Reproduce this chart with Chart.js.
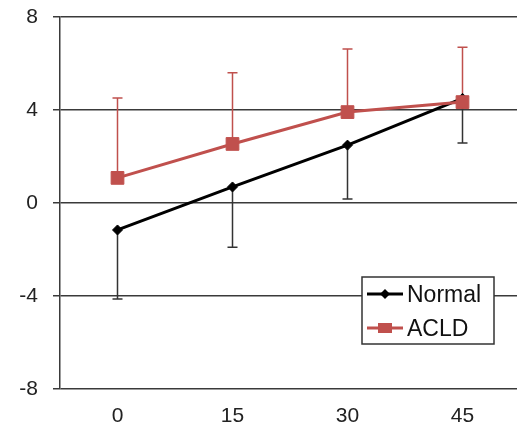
<!DOCTYPE html>
<html lang="en">
<head>
    <meta charset="UTF-8">
    <title>Normal vs ACLD</title>
    <script src="https://cdn.jsdelivr.net/npm/chart.js"></script>
    <style>
        html, body { margin: 0; padding: 0; overflow: hidden; background: #fff; }
    </style>
</head>
<body>
    <canvas id="myChart" width="530" height="424"></canvas>

    <script>
        // data
        var labels = ['0', '15', '30', '45'];
        var normalMean = [-1.16, 0.69, 2.49, 4.5];
        var normalSD = [2.97, 2.59, 2.32, 1.92];   // drawn downwards only
        var acldMean = [1.08, 2.54, 3.91, 4.34];
        var acldSD = [3.44, 3.06, 2.71, 2.36];     // drawn upwards only
        var yTicks = [-8, -4, 0, 4, 8];

        var red = '#c0504d';
        var font = "'Liberation Sans', Arial, sans-serif";

        // error bars, one-sided, drawn under the lines
        var errorBars = {
            id: 'errorBars',
            beforeDatasetsDraw: function (chart) {
                var ctx = chart.ctx;
                var x = chart.scales.x, y = chart.scales.y;
                var sets = [
                    { mean: normalMean, sd: normalSD, dir: -1, color: '#333' },
                    { mean: acldMean, sd: acldSD, dir: 1, color: red }
                ];
                ctx.save();
                sets.forEach(function (s) {
                    ctx.strokeStyle = s.color;
                    ctx.lineWidth = 1.5;
                    for (var i = 0; i < s.mean.length; i++) {
                        var px = x.getPixelForValue(i);
                        var y0 = y.getPixelForValue(s.mean[i]);
                        var y1 = y.getPixelForValue(s.mean[i] + s.dir * s.sd[i]);
                        ctx.beginPath();
                        ctx.moveTo(px, y0);
                        ctx.lineTo(px, y1);
                        ctx.moveTo(px - 5, y1);
                        ctx.lineTo(px + 5, y1);
                        ctx.stroke();
                    }
                });
                ctx.restore();
            }
        };

        // legend box inside the plot, lower right
        var boxLegend = {
            id: 'boxLegend',
            afterDraw: function (chart) {
                var ctx = chart.ctx;
                var bx = 362, by = 277, bw = 132, bh = 67;
                ctx.save();
                ctx.fillStyle = '#fff';
                ctx.fillRect(bx, by, bw, bh);
                ctx.strokeStyle = '#333';
                ctx.lineWidth = 1.5;
                ctx.strokeRect(bx, by, bw, bh);

                var rows = [chart.data.datasets[0], chart.data.datasets[1]];
                rows.forEach(function (ds, i) {
                    var cy = by + 17 + i * 34;
                    ctx.strokeStyle = ds.borderColor;
                    ctx.lineWidth = 3;
                    ctx.beginPath();
                    ctx.moveTo(bx + 5, cy);
                    ctx.lineTo(bx + 41, cy);
                    ctx.stroke();
                    ctx.fillStyle = ds.pointBackgroundColor;
                    ctx.beginPath();
                    if (ds.pointStyle === 'rectRot') {
                        ctx.moveTo(bx + 23, cy - 5);
                        ctx.lineTo(bx + 28, cy);
                        ctx.lineTo(bx + 23, cy + 5);
                        ctx.lineTo(bx + 18, cy);
                        ctx.closePath();
                    } else {
                        ctx.rect(bx + 16, cy - 5, 14, 10);
                    }
                    ctx.fill();
                    ctx.fillStyle = '#111';
                    ctx.font = '23px ' + font;
                    ctx.textBaseline = 'middle';
                    ctx.textAlign = 'left';
                    ctx.fillText(ds.label, bx + 45, cy + 2);
                });
                ctx.restore();
            }
        };

        var data = {
            labels: labels,
            datasets: [
                {
                    label: 'Normal',
                    data: normalMean,
                    borderColor: '#000',
                    backgroundColor: '#000',
                    pointBackgroundColor: '#000',
                    pointBorderColor: '#000',
                    pointStyle: 'rectRot',
                    pointRadius: 5,
                    pointBorderWidth: 1,
                    borderWidth: 3,
                    order: 1
                },
                {
                    label: 'ACLD',
                    data: acldMean,
                    borderColor: red,
                    backgroundColor: red,
                    pointBackgroundColor: red,
                    pointBorderColor: red,
                    pointStyle: 'rect',
                    pointRadius: 9,
                    pointBorderWidth: 1,
                    borderWidth: 3,
                    order: 0
                }
            ]
        };

        var config = {
            type: 'line',
            data: data,
            plugins: [errorBars, boxLegend],
            options: {
                responsive: false,
                animation: false,
                layout: { padding: { top: 17, right: 7, left: 0, bottom: 0 } },
                plugins: {
                    legend: { display: false },
                    tooltip: { enabled: false }
                },
                scales: {
                    x: {
                        offset: true,
                        grid: { display: false, drawTicks: false },
                        border: { display: false },
                        ticks: {
                            color: '#222',
                            font: { family: font, size: 21 },
                            padding: 15,
                            maxRotation: 0
                        },
                        afterFit: function (scale) {
                            scale.height = 35;
                            scale.paddingLeft = 0;
                            scale.paddingRight = 0;
                        }
                    },
                    y: {
                        min: -8,
                        max: 8,
                        afterBuildTicks: function (scale) {
                            scale.ticks = yTicks.map(function (v) { return { value: v }; });
                        },
                        grid: { color: '#3a3a3a', lineWidth: 1.5, tickLength: 7 },
                        border: { display: true, color: '#3a3a3a', width: 1.5 },
                        ticks: {
                            color: '#222',
                            font: { family: font, size: 21 },
                            padding: 15
                        },
                        afterFit: function (scale) {
                            scale.width = 60;
                            scale.paddingTop = 0;
                            scale.paddingBottom = 0;
                        }
                    }
                }
            }
        };

        var ctx = document.getElementById('myChart').getContext('2d');
        var myChart = new Chart(ctx, config);
    </script>
</body>
</html>
